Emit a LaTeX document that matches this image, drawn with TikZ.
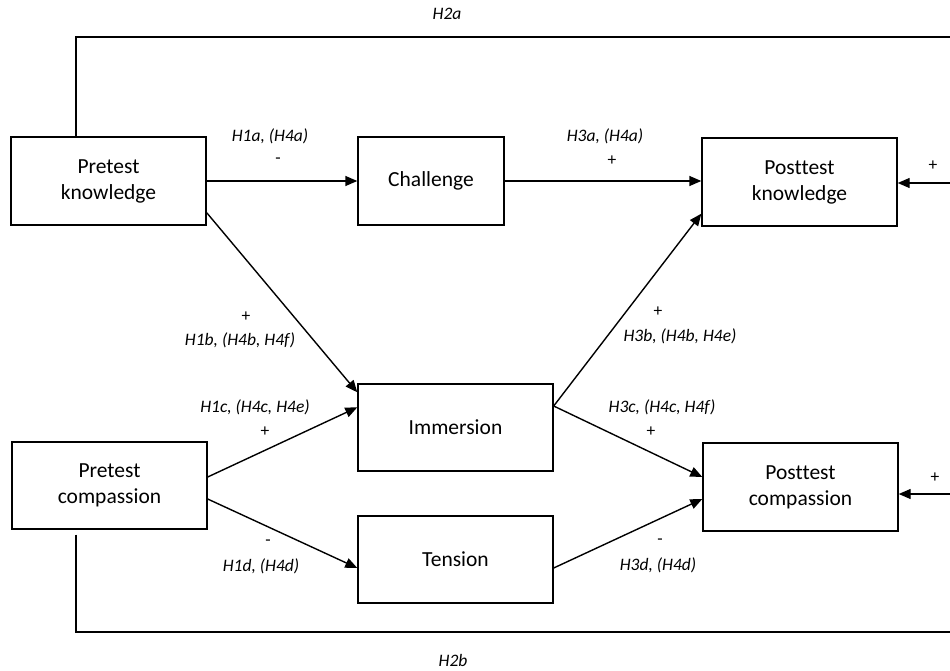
\documentclass[tikz,border=0pt]{standalone}
\usepackage{fontspec}
\setmainfont{Carlito}[Ligatures={NoCommon}]
\usetikzlibrary{arrows.meta,calc}
\begin{document}
\begin{tikzpicture}[x=1pt,y=-1pt,
  box/.style={draw,line width=1.4pt,inner sep=0pt,align=center,font=\fontsize{21.5}{26}\selectfont},
  lab/.style={inner sep=0pt,font=\fontsize{17.5}{20}\selectfont\itshape},
  sgn/.style={inner sep=0pt,font=\fontsize{17.5}{20}\selectfont},
  conn/.style={line width=1.4pt},
  arr/.style={line width=1.4pt,-{Triangle[length=12pt,width=10pt]}}]
\useasboundingbox (0,0) rectangle (950,671);
% boxes
\node[box,minimum width=195pt,minimum height=88pt] (pk) at (108.5,181) {Pretest\\knowledge};
\node[box,minimum width=146pt,minimum height=88pt] (ch) at (431,181) {Challenge};
\node[box,minimum width=195pt,minimum height=88pt] (pok) at (799.5,182) {Posttest\\knowledge};
\node[box,minimum width=195pt,minimum height=87pt] (im) at (455.5,427.5) {Immersion};
\node[box,minimum width=195pt,minimum height=87pt] (te) at (455.5,559.5) {Tension};
\node[box,minimum width=195pt,minimum height=87pt] (pc) at (109.5,485.5) {Pretest\\compassion};
\node[box,minimum width=195pt,minimum height=88pt] (poc) at (800.5,487) {Posttest\\compassion};
% free ends
\coordinate (a1) at ($(pk.north)+(-32.5,0)$);
\coordinate (a2) at (76,37);
\coordinate (a3) at (950,37);
\coordinate (a4) at (950,183);
\coordinate (b1) at ($(pc.south)+(-33.5,5)$);
\coordinate (b2) at (76,632);
\coordinate (b3) at (950,632);
\coordinate (b4) at (950,494);
% connectors
\draw[conn] (a1) -- (a2) -- (a3);
\draw[arr] (a4) -- (a4 -| pok.east);
\draw[conn] (b1) -- (b2) -- (b3);
\draw[arr] (b4) -- (b4 -| poc.east);
\draw[arr] (pk.east) -- (ch.west);
\draw[arr] (ch.east) -- (ch.east -| pok.west);
\draw[arr] ($(pk.south east)+(0,-13)$) -- ($(im.north west)+(0,9)$);
\draw[arr] ($(pc.east)+(0,-8.5)$) -- ($(im.north west)+(0,24)$);
\draw[arr] ($(pc.east)+(0,13.5)$) -- ($(te.west)+(0,8.5)$);
\draw[arr] ($(im.east)+(0,-21.5)$) -- ($(pok.south west)+(0,-13)$);
\draw[arr] ($(im.east)+(0,-21.5)$) -- ($(poc.west)+(0,-10)$);
\draw[arr] ($(te.east)+(0,8.5)$) -- ($(poc.west)+(0,12)$);
% labels
\node[lab] (lh2a) at (447,14) {H2a};
\node[lab] (lh2b) at (453,660) {H2b};
\node[sgn] (sp1) at (933,166) {+};
\node[sgn] (sp2) at (935,478) {+};
\node[lab] (l1a) at (270,136) {H1a, (H4a)};
\node[sgn] (s1a) at (278,161) {-};
\node[lab] (l3a) at (605,136) {H3a, (H4a)};
\node[sgn] (s3a) at (612,161) {+};
\node[sgn] (s1b) at (246,317) {+};
\node[lab] (l1b) at (240,340) {H1b, (H4b, H4f)};
\node[lab] (l1c) at (255,407) {H1c, (H4c, H4e)};
\node[sgn] (s1c) at (265,432) {+};
\node[sgn] (s1d) at (268,543) {-};
\node[lab] (l1d) at (261,566) {H1d, (H4d)};
\node[sgn] (s3b) at (658,312) {+};
\node[lab] (l3b) at (680,336) {H3b, (H4b, H4e)};
\node[lab] (l3c) at (662,407) {H3c, (H4c, H4f)};
\node[sgn] (s3c) at (651,432) {+};
\node[sgn] (s3d) at (660,542) {-};
\node[lab] (l3d) at (658,565) {H3d, (H4d)};
\end{tikzpicture}
\end{document}
